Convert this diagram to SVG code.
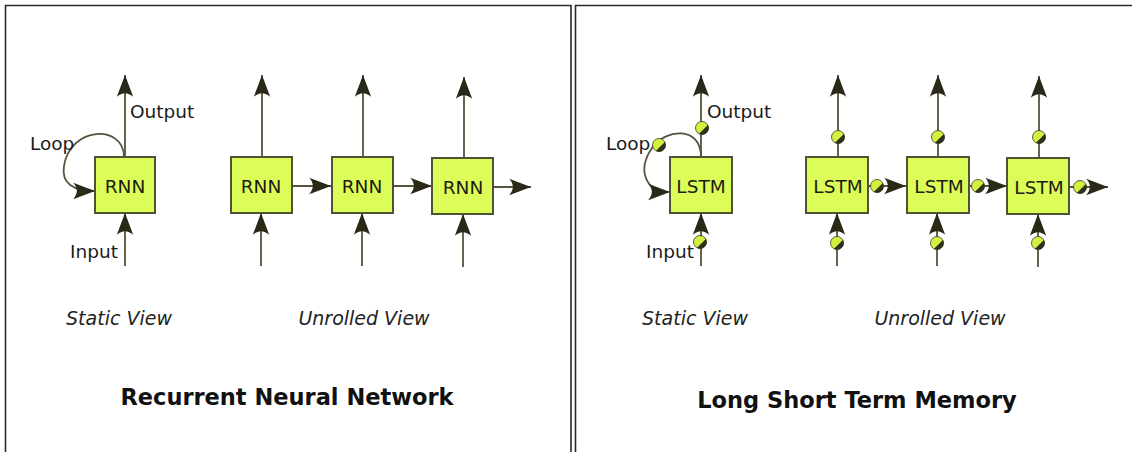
<svg xmlns="http://www.w3.org/2000/svg" width="1132" height="452" viewBox="0 0 1132 452">
  <style>
    .panel { fill: #ffffff; stroke: #2a2a2a; stroke-width: 1.6; }
    .cell { fill: #dcfc58; stroke: #4e5236; stroke-width: 2; }
    .lbl { font-family: "DejaVu Sans", Verdana, sans-serif; font-size: 18.5px; fill: #1c1c1c; }
    .cellTxt { font-family: "DejaVu Sans", Verdana, sans-serif; font-size: 18.5px; fill: #1c1c14; text-anchor: middle; }
    .cap { font-family: "DejaVu Sans", Verdana, sans-serif; font-size: 19px; font-style: italic; fill: #222; text-anchor: middle; }
    .title { font-family: "DejaVu Sans", Verdana, sans-serif; font-size: 22.5px; font-weight: bold; fill: #111; text-anchor: middle; }
    .wire { fill: none; stroke: #57533f; stroke-width: 1.8; }
    .arr { marker-end: url(#head); }
  </style>
  <defs>
    <marker id="head" markerUnits="userSpaceOnUse" markerWidth="24" markerHeight="18" viewBox="-21 -8 22 16" refX="0" refY="0" orient="auto">
      <path d="M0,0 L-20,-7.5 C-15.5,-2.5 -15.5,2.5 -20,7.5 Z" fill="#2a2816"/>
    </marker>
    <g id="gate">
      <circle r="6.5" fill="#d2f040" stroke="#3a3a22" stroke-width="0.8"/>
      <path d="M-3,5.8 A6.5,6.5 0 0 0 5.8,-3 Q1.5,1.5 -3,5.8 Z" fill="#2f2f1c"/>
    </g>
  </defs>

  <!-- panel frames -->
  <g id="panels">
    <path class="panel" d="M5.5,460 V5.5 H571 V460"/>
    <path class="panel" d="M575.5,460 V5.5 H1140"/>
  </g>

  <!-- connectors -->
  <g id="connectors">
    <!-- RNN static -->
    <line class="wire arr" x1="125" y1="157" x2="125" y2="75"/>
    <line class="wire arr" x1="125" y1="266" x2="125" y2="213"/>
    <path class="wire arr" d="M124,157 C124,124 70,126 64,166 C61,184 74,191 95,191"/>
    <!-- RNN unrolled -->
    <line class="wire arr" x1="262" y1="157" x2="262" y2="75"/>
    <line class="wire arr" x1="363" y1="157" x2="363" y2="75"/>
    <line class="wire arr" x1="464" y1="158" x2="464" y2="77"/>
    <line class="wire arr" x1="261" y1="266" x2="261" y2="213"/>
    <line class="wire arr" x1="362" y1="266" x2="362" y2="213"/>
    <line class="wire arr" x1="463" y1="267" x2="463" y2="214"/>
    <line class="wire arr" x1="292" y1="186" x2="331" y2="186"/>
    <line class="wire arr" x1="393" y1="186" x2="432" y2="186"/>
    <line class="wire arr" x1="493" y1="187" x2="531" y2="187"/>

    <!-- LSTM static -->
    <line class="wire arr" x1="701" y1="157" x2="701" y2="75"/>
    <line class="wire arr" x1="701" y1="266" x2="701" y2="213"/>
    <path class="wire arr" d="M701,157 C701,126 666,128 652,148 C637,170 645,192 670,192"/>
    <!-- LSTM unrolled -->
    <line class="wire arr" x1="838" y1="157" x2="838" y2="75"/>
    <line class="wire arr" x1="938" y1="157" x2="938" y2="75"/>
    <line class="wire arr" x1="1039" y1="158" x2="1039" y2="76"/>
    <line class="wire arr" x1="837" y1="266" x2="837" y2="213"/>
    <line class="wire arr" x1="937" y1="266" x2="937" y2="213"/>
    <line class="wire arr" x1="1038" y1="267" x2="1038" y2="214"/>
    <line class="wire arr" x1="868" y1="186" x2="906" y2="186"/>
    <line class="wire arr" x1="969" y1="186" x2="1007" y2="186"/>
    <line class="wire arr" x1="1069" y1="187" x2="1108" y2="187"/>
  </g>

  <!-- gates -->
  <g id="gates">
    <use href="#gate" x="702" y="128"/>
    <use href="#gate" x="659" y="145"/>
    <use href="#gate" x="700" y="242"/>
    <use href="#gate" x="838" y="137"/>
    <use href="#gate" x="938" y="137"/>
    <use href="#gate" x="1039" y="137"/>
    <use href="#gate" x="837" y="243"/>
    <use href="#gate" x="937" y="243"/>
    <use href="#gate" x="1038" y="243"/>
    <use href="#gate" x="877" y="186"/>
    <use href="#gate" x="978" y="186"/>
    <use href="#gate" x="1080" y="187"/>
  </g>

  <!-- RNN nodes -->
  <g id="rnn-static">
    <rect class="cell" x="95" y="157" width="60" height="56"/>
    <text class="cellTxt" x="125" y="193">RNN</text>
  </g>
  <g id="rnn-1">
    <rect class="cell" x="231" y="157" width="61" height="56"/>
    <text class="cellTxt" x="261" y="193">RNN</text>
  </g>
  <g id="rnn-2">
    <rect class="cell" x="332" y="157" width="61" height="56"/>
    <text class="cellTxt" x="362" y="193">RNN</text>
  </g>
  <g id="rnn-3">
    <rect class="cell" x="432" y="158" width="61" height="56"/>
    <text class="cellTxt" x="463" y="194">RNN</text>
  </g>

  <!-- LSTM nodes -->
  <g id="lstm-static">
    <rect class="cell" x="670" y="157" width="62" height="56"/>
    <text class="cellTxt" x="701" y="193">LSTM</text>
  </g>
  <g id="lstm-1">
    <rect class="cell" x="806" y="157" width="62" height="56"/>
    <text class="cellTxt" x="838" y="193">LSTM</text>
  </g>
  <g id="lstm-2">
    <rect class="cell" x="907" y="157" width="62" height="56"/>
    <text class="cellTxt" x="939" y="193">LSTM</text>
  </g>
  <g id="lstm-3">
    <rect class="cell" x="1007" y="158" width="62" height="56"/>
    <text class="cellTxt" x="1039" y="194">LSTM</text>
  </g>

  <!-- labels -->
  <g id="labels">
    <text class="lbl" x="130" y="118">Output</text>
    <text class="lbl" x="30" y="150">Loop</text>
    <text class="lbl" x="70" y="258">Input</text>
    <text class="lbl" x="707" y="118">Output</text>
    <text class="lbl" x="606" y="150">Loop</text>
    <text class="lbl" x="646" y="258">Input</text>

    <text class="cap" x="119" y="325">Static View</text>
    <text class="cap" x="364" y="325">Unrolled View</text>
    <text class="cap" x="695" y="325">Static View</text>
    <text class="cap" x="940" y="325">Unrolled View</text>

    <text class="title" x="287" y="405">Recurrent Neural Network</text>
    <text class="title" x="857" y="408">Long Short Term Memory</text>
  </g>
</svg>
